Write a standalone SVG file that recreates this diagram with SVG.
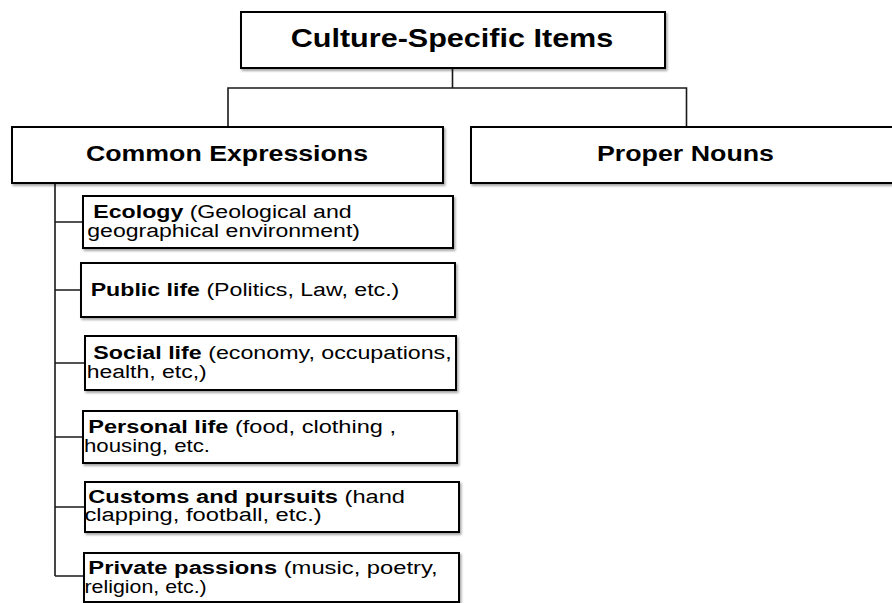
<svg xmlns="http://www.w3.org/2000/svg" width="892" height="603" viewBox="0 0 892 603">
<style>
.box{fill:#fff;stroke:#000;stroke-width:2;filter:url(#sh)}
.head{font-family:"Liberation Sans",Arial,sans-serif;font-weight:bold;fill:#000}
.t{font-family:"Liberation Sans",Arial,sans-serif;font-size:18px;fill:#000}
.b{font-weight:bold}
.conn{fill:none;stroke:#1a1a1a;stroke-width:1.6}
</style>
<defs>
<filter id="sh" x="-5%" y="-20%" width="110%" height="150%">
<feDropShadow dx="1.5" dy="2" stdDeviation="1.2" flood-color="#000" flood-opacity="0.35"/>
</filter>
</defs>
<rect width="892" height="603" fill="#fff"/>
<g id="connectors">
<path class="conn" d="M452.5 68 V88 M228 127 V88 H686.5 V127"/>
<path class="conn" d="M55 183 V576 M55 222 H83 M55 290 H81 M55 363 H85 M55 437 H83 M55 507 H85 M55 576 H84"/>
</g>
<g id="culture-specific-items">
<rect class="box" x="241" y="12" width="424" height="56"/>
<text class="head" x="290.7" y="47" font-size="25" textLength="322.6" lengthAdjust="spacingAndGlyphs">Culture-Specific  Items</text>
</g>
<g id="common-expressions">
<rect class="box" x="12" y="127" width="431" height="56"/>
<text class="head" x="86" y="161" font-size="22" textLength="282" lengthAdjust="spacingAndGlyphs">Common Expressions</text>
</g>
<g id="proper-nouns">
<rect class="box" x="471" y="127" width="430" height="56"/>
<text class="head" x="597" y="161" font-size="22" textLength="177" lengthAdjust="spacingAndGlyphs">Proper Nouns</text>
</g>
<g id="ecology">
<rect class="box" x="83" y="196" width="370" height="52"/>
<text class="t" x="93.3" y="218.3" textLength="258.4" lengthAdjust="spacingAndGlyphs"><tspan class="b">Ecology</tspan> (Geological and</text>
<text class="t" x="87.3" y="236.8" textLength="272.7" lengthAdjust="spacingAndGlyphs">geographical environment)</text>
</g>
<g id="public-life">
<rect class="box" x="81" y="263" width="374" height="54"/>
<text class="t" x="90.7" y="296" textLength="308.6" lengthAdjust="spacingAndGlyphs"><tspan class="b">Public life</tspan> (Politics, Law, etc.)</text>
</g>
<g id="social-life">
<rect class="box" x="85" y="336" width="371" height="54"/>
<text class="t" x="93.3" y="358.5" textLength="358.4" lengthAdjust="spacingAndGlyphs"><tspan class="b">Social life</tspan> (economy, occupations,</text>
<text class="t" x="86.7" y="377.5" textLength="120" lengthAdjust="spacingAndGlyphs">health, etc,)</text>
</g>
<g id="personal-life">
<rect class="box" x="83" y="411" width="374" height="52"/>
<text class="t" x="88.3" y="432.5" textLength="307.7" lengthAdjust="spacingAndGlyphs"><tspan class="b">Personal life</tspan> (food, clothing ,</text>
<text class="t" x="84" y="451.5" textLength="126" lengthAdjust="spacingAndGlyphs">housing, etc.</text>
</g>
<g id="customs-and-pursuits">
<rect class="box" x="85" y="482" width="374" height="50"/>
<text class="t" x="88.3" y="502.5" textLength="316.7" lengthAdjust="spacingAndGlyphs"><tspan class="b">Customs and pursuits</tspan> (hand</text>
<text class="t" x="84.5" y="520.5" textLength="237.2" lengthAdjust="spacingAndGlyphs">clapping, football, etc.)</text>
</g>
<g id="private-passions">
<rect class="box" x="84" y="553" width="375" height="49"/>
<text class="t" x="88.3" y="573.5" textLength="349.4" lengthAdjust="spacingAndGlyphs"><tspan class="b">Private passions</tspan> (music, poetry,</text>
<text class="t" x="84.5" y="593" textLength="122.2" lengthAdjust="spacingAndGlyphs">religion, etc.)</text>
</g>
</svg>
